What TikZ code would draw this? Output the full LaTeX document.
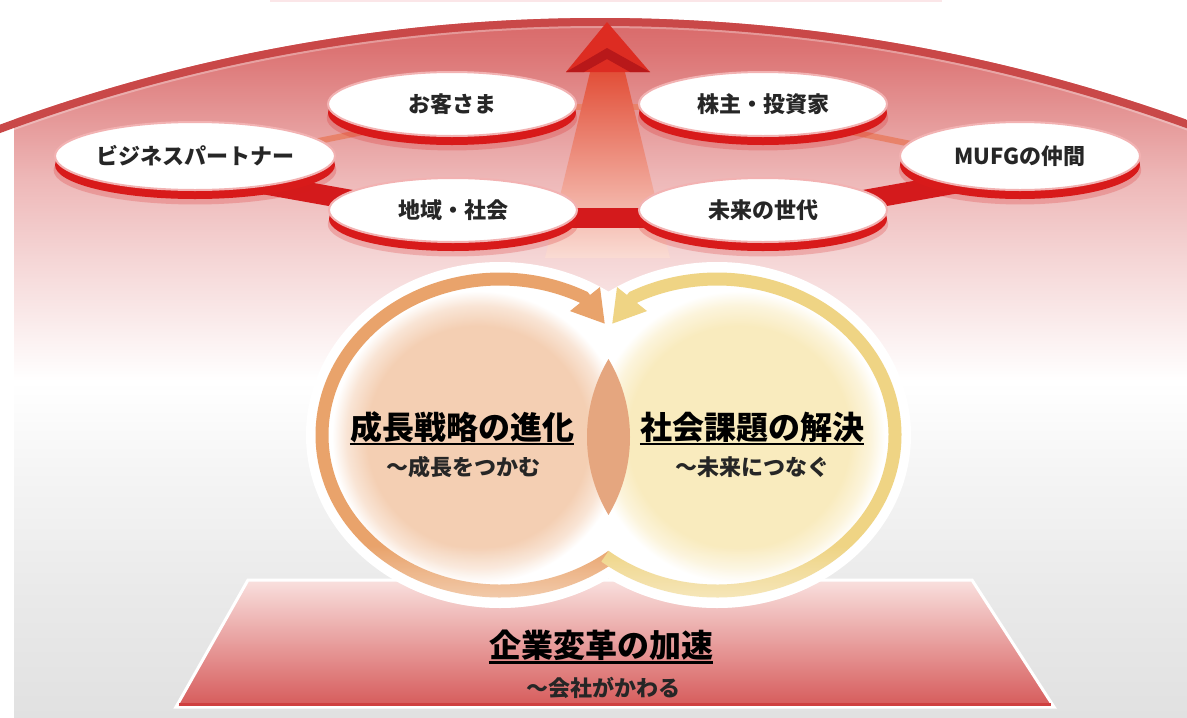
\documentclass[tikz,border=0pt]{standalone}
\usepackage{fontspec}
\newfontfamily\jp{Noto Sans CJK JP}
\usetikzlibrary{shapes.geometric,arrows.meta,shadows,fadings}
\definecolor{bga}{HTML}{E1E1E1}
\definecolor{bgb}{HTML}{E9E9E9}
\definecolor{bgc}{HTML}{F4F4F4}
\definecolor{bgd}{HTML}{FBEEEE}
\definecolor{bge}{HTML}{F5D6D6}
\definecolor{bgf}{HTML}{EEB8B8}
\definecolor{bgg}{HTML}{E49494}
\definecolor{bgh}{HTML}{DC7474}
\definecolor{bgi}{HTML}{D66262}
\definecolor{rimred}{HTML}{C94848}
\definecolor{toppink}{HTML}{FBE6E8}
\definecolor{traptop}{HTML}{F9E0DE}
\definecolor{trapbot}{HTML}{D65A5A}
\definecolor{trapline}{HTML}{CF3F3F}
\definecolor{peach}{HTML}{F4CFB3}
\definecolor{cream}{HTML}{F9EBBE}
\definecolor{lenscol}{HTML}{E5A67F}
\definecolor{ringor}{HTML}{E9A36B}
\definecolor{ringye}{HTML}{EFD484}
\definecolor{shafttop}{HTML}{E0442C}
\definecolor{shaftmid}{HTML}{EC8C6C}
\definecolor{shaftbot}{HTML}{FADCD4}
\definecolor{headred}{HTML}{DD2C22}
\definecolor{headdark}{HTML}{B8181A}
\definecolor{bandred}{HTML}{D41A1C}
\definecolor{thinred}{HTML}{E8826A}
\definecolor{shadowred}{HTML}{D81A1A}
\definecolor{pillborder}{HTML}{F2B2B2}
\definecolor{txt}{HTML}{262626}
\pgfdeclareverticalshading{bgshade}{100bp}{color(0bp)=(bga); color(25bp)=(bga); color(33.2bp)=(bgb); color(41.6bp)=(bgc); color(48.5bp)=(white); color(52bp)=(bgd); color(56.9bp)=(bge); color(62.5bp)=(bgf); color(67.3bp)=(bgg); color(71.5bp)=(bgh); color(75bp)=(bgi); color(100bp)=(bgi)}
\pgfdeclareradialshading{peachdisc}{\pgfpoint{0bp}{0bp}}{color(0bp)=(peach); color(19bp)=(peach); color(22.5bp)=(peach!55!white); color(25bp)=(white); color(50bp)=(white)}
\pgfdeclareradialshading{creamdisc}{\pgfpoint{0bp}{0bp}}{color(0bp)=(cream); color(19bp)=(cream); color(22.5bp)=(cream!55!white); color(25bp)=(white); color(50bp)=(white)}
\pgfdeclarelayer{back}
\pgfdeclarelayer{arrowback}
\pgfdeclarelayer{arrowlayer}
\pgfdeclarelayer{bands}
\pgfsetlayers{back,arrowback,arrowlayer,bands,main}
\begin{document}
\begin{tikzpicture}[x=1pt,y=-1pt,
  pill/.style={ellipse, draw=pillborder, line width=2, fill=white,
    minimum width=248, minimum height=64, inner sep=0,
    font=\jp\bfseries\fontsize{22}{22}\selectfont, text=txt,
    drop shadow={shadow xshift=0pt, shadow yshift=-14pt, shadow scale=1.01, fill=shadowred, opacity=.22},
    drop shadow={shadow xshift=0pt, shadow yshift=-9pt, fill=shadowred, opacity=1}},
  bigtitle/.style={inner sep=0, font=\jp\bfseries\fontsize{32}{32}\selectfont, text=black},
  subtitle/.style={inner sep=0, font=\jp\bfseries\fontsize{22}{22}\selectfont, text=txt},
  ul/.style={line width=2.6, black},
  band/.style={line width=20, bandred},
  thinconn/.style={line width=6, thinred},
  ringl/.style={line width=13, ringor, line cap=butt, -{Triangle[width=36pt,length=32pt]}},
  ringr/.style={line width=13, ringye, line cap=butt, -{Triangle[width=36pt,length=32pt]}}
]
\useasboundingbox (0,0) rectangle (1187,718);

\begin{pgfonlayer}{back}
  \fill[white] (0,0) rectangle (1187,718);
  \fill[toppink] (270,0) rectangle (942,2);
  \begin{scope}
    \clip (600,1752) circle (1734);
    \shade[shading=bgshade] (14,0) rectangle (1187,718);
    \draw[line width=16, rimred] (600,1752) circle (1734);
    \draw[line width=2, white, opacity=.3] (600,1752) circle (1725);
  \end{scope}
  % platform
  \shade[top color=traptop, bottom color=trapbot, draw=white, line width=3]
    (248,580) -- (972,580) -- (1054,707) -- (176,707) -- cycle;
  \draw[trapline, line width=2.5] (179,704.5) -- (1051,704.5);
  % circles
  \coordinate (rl) at (500,435);
  \coordinate (rr) at (717,435);
  \coordinate (dl) at (478,437);
  \coordinate (dr) at (739,437);
  \fill[white] (rl) ellipse (194 and 173);
  \fill[white] (rr) ellipse (194 and 173);
  \shade[shading=peachdisc] (dl) circle (146);
  \shade[shading=creamdisc] (dr) circle (146);
  \begin{scope}
    \clip (dl) circle (152);
    \fill[lenscol] (dr) circle (152);
  \end{scope}
  \draw[ringl] ([shift={(51:178 and 156)}]rl) arc[start angle=51, end angle=298, x radius=178, y radius=156] -- (605,324);
  \draw[ringr] ([shift={(129:178 and 156)}]rr) arc[start angle=129, end angle=-118, x radius=178, y radius=156] -- (612,324);
  \begin{scope}
    \clip (rl) ellipse (194 and 173) (rr) ellipse (194 and 173);
    \fill[white, path fading=north, opacity=.55] (300,545) rectangle (920,612);
  \end{scope}
\end{pgfonlayer}

% ellipse nodes
\node[pill] (okyaku) at (452,104) {お客さま};
\node[pill] (kabu) at (763,104) {株主・投資家};
\node[pill, minimum width=236, minimum height=68] (biz) at (195,156) {ビジネスパートナー};
\node[pill, minimum width=240, minimum height=68] (mufg) at (1020,156) {MUFGの仲間};
\node[pill] (chiiki) at (453,210) {地域・社会};
\node[pill] (mirai) at (763,210) {未来の世代};

\begin{pgfonlayer}{arrowback}
  \draw[thinconn] ([yshift=-10pt]biz.center) -- ([yshift=-10pt]okyaku.center);
  \draw[thinconn] ([yshift=-3pt]okyaku.center) -- ([yshift=-3pt]kabu.center);
  \draw[thinconn] ([yshift=-10pt]kabu.center) -- ([yshift=-10pt]mufg.center);
\end{pgfonlayer}

\begin{pgfonlayer}{arrowlayer}
  \shade[top color=shafttop, middle color=shaftmid, bottom color=shaftbot]
    (592,64) -- (607,57) -- (623,64) -- (670,258) -- (545,258) -- cycle;
  \fill[headred] (607,22) -- (650,72) -- (566,72) -- cycle;
  \fill[headdark] (566,72) -- (607,48) -- (650,72) -- (630,72) -- (607,59) -- (584,72) -- cycle;
\end{pgfonlayer}

\begin{pgfonlayer}{bands}
  \draw[band] ([yshift=-16pt]biz.center) -- ([yshift=-8pt]chiiki.center);
  \draw[band] ([yshift=-8pt]chiiki.center) -- ([yshift=-8pt]mirai.center);
  \draw[band] ([yshift=-8pt]mirai.center) -- ([yshift=-16pt]mufg.center);
\end{pgfonlayer}

% circle texts
\node[bigtitle] (t1) at (462,427) {成長戦略の進化};
\draw[ul] ([yshift=-5pt]t1.base west) -- ([yshift=-5pt]t1.base east);
\node[subtitle] (s1) at (463,467) {〜成長をつかむ};
\node[bigtitle] (t2) at (752,427) {社会課題の解決};
\draw[ul] ([yshift=-5pt]t2.base west) -- ([yshift=-5pt]t2.base east);
\node[subtitle] (s2) at (752,467) {〜未来につなぐ};
\node[bigtitle] (t3) at (601,645) {企業変革の加速};
\draw[ul] ([yshift=-5pt]t3.base west) -- ([yshift=-5pt]t3.base east);
\node[subtitle] (s3) at (603,688) {〜会社がかわる};
\end{tikzpicture}
\end{document}
